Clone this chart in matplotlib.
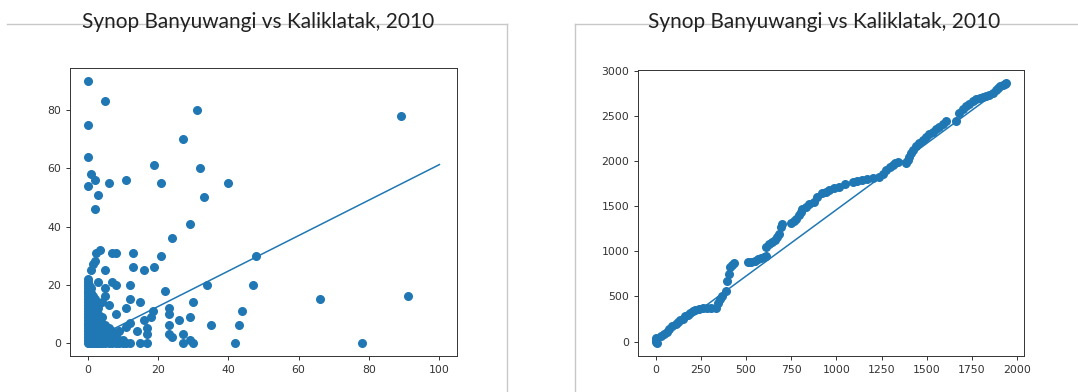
import numpy as np
import matplotlib
matplotlib.use("Agg")
import matplotlib.pyplot as plt
from matplotlib.lines import Line2D

title_text = "Synop Banyuwangi vs Kaliklatak, 2010"

# daily rainfall (mm): synop on x, kaliklatak on y -- dense cluster near zero
cluster_x = [0]*23 + [0.5]*13 + [1]*11 + [1.5]*9 + [2]*7 + [2.5]*6 + [3]*7 + [3.5]*4 \
    + [4]*6 + [5]*5 + [6]*4 + [7]*3 + [8]*3 + [9]*2 + [10]*2 + [11, 12]
cluster_y = list(range(23)) \
    + [0, 1, 2, 3, 5, 6, 8, 10, 12, 14, 16, 18, 20] \
    + [0, 1, 2, 4, 6, 9, 11, 13, 15, 17, 19] \
    + [0, 2, 3, 5, 7, 10, 12, 14, 16] \
    + [0, 1, 3, 5, 8, 11, 15] \
    + [0, 2, 4, 6, 9, 13] \
    + [0, 1, 3, 5, 7, 10, 12] \
    + [0, 2, 4, 8] \
    + [0, 1, 3, 5, 9, 14] \
    + [0, 1, 2, 4, 6] \
    + [0, 1, 3, 5] \
    + [0, 2, 4] \
    + [0, 1, 3] \
    + [0, 1] \
    + [0, 1] \
    + [0, 0]

# scattered daily values
daily_x = [0, 5, 0, 0, 1, 2, 0, 3, 2, 6, 11, 19, 21, 27, 31, 32, 33, 40, 89,
           29, 24, 2, 3.5, 2.5, 1.5, 1, 5, 7, 8, 13, 13, 16, 19, 21, 48,
           3, 5, 7, 8, 12, 22, 34, 47, 66, 91, 12, 15, 11, 5, 6, 8,
           18, 18.5, 23, 23, 26, 29, 30, 35, 44, 43, 42, 78,
           11, 12, 9, 14, 17, 17, 23, 23, 24, 27, 15, 17, 27, 29, 30, 16]
daily_y = [90, 83, 75, 64, 58, 56, 54, 51, 46, 55, 56, 61, 55, 70, 80, 60, 50, 55, 78,
           41, 36, 28, 32, 31, 27, 25, 25, 31, 31, 31, 26, 25, 26, 30, 30,
           21, 19, 21, 20, 20, 18, 20, 20, 15, 16, 15, 14, 12, 16, 13, 10,
           9, 11, 12, 10, 8, 9, 14, 6, 11, 6, 0, 0,
           5.5, 7, 4, 4, 5, 3, 6, 3, 2, 3, 0, 0, 0, 1, 0, 8]

daily_fit = (0.61, 0.3)
daily_fit_x = [0, 100]

# cumulative rainfall (mm)
cum_x = [0, 0, 3, 6, 30, 48, 63, 75, 90, 111, 125, 137, 150, 164, 178, 191, 205, 218,
         240, 262, 285, 307, 334, 346, 358, 370, 388, 396, 405, 414, 423, 433,
         512, 530, 548, 566, 584, 598, 611, 611, 628, 646, 660, 673, 682, 691, 700,
         750, 765, 777, 793, 804, 812, 830, 850, 875, 895, 920, 940, 959, 985, 1015,
         1050, 1089, 1115, 1144, 1170, 1200, 1237, 1255, 1274, 1295, 1311, 1325, 1338,
         1384, 1395, 1403, 1412, 1421, 1440, 1458, 1477, 1495, 1512, 1532, 1550, 1569,
         1590, 1606, 1662, 1680, 1698, 1717, 1735, 1754, 1772, 1791, 1810, 1828, 1846,
         1865, 1880, 1893, 1907, 1920, 1930, 1939]
cum_y = [0, 20, 35, -15, 60, 80, 111, 135, 174, 195, 215, 235, 255, 280, 296, 317, 335, 354,
         362, 368, 372, 370, 372, 429, 470, 504, 560, 672, 746, 821, 845, 867,
         877, 886, 896, 910, 925, 940, 951, 1045, 1075, 1101, 1130, 1157, 1193, 1269, 1304,
         1313, 1330, 1362, 1396, 1437, 1470, 1493, 1520, 1549, 1602, 1640, 1660, 1676, 1700, 1713,
         1740, 1769, 1778, 1787, 1795, 1806, 1824, 1860, 1898, 1930, 1954, 1975, 1991,
         1973, 2010, 2047, 2085, 2121, 2160, 2195, 2230, 2269, 2300, 2325, 2350, 2380,
         2410, 2436, 2436, 2529, 2570, 2603, 2630, 2659, 2680, 2696, 2705, 2714, 2730,
         2751, 2780, 2807, 2825, 2844, 2852, 2862]

cum_fit = (1.47, -10)
cum_fit_x = [0, 1940]

blue = '#1f77b4'
W, H = 1078, 392

plt.rcParams['font.family'] = ['DejaVu Sans']
plt.rcParams['font.size'] = 7.8
plt.rcParams['axes.linewidth'] = 0.7
plt.rcParams['axes.edgecolor'] = '#333333'
plt.rcParams['xtick.color'] = '#333333'
plt.rcParams['ytick.color'] = '#333333'
plt.rcParams['xtick.major.size'] = 2.8
plt.rcParams['ytick.major.size'] = 2.8
plt.rcParams['xtick.major.width'] = 0.7
plt.rcParams['ytick.major.width'] = 0.7

fig = plt.figure(figsize=(W / 100, H / 100), dpi=100)


def px_axes(x0, y0, x1, y1):
    # pixel box (top-left origin) -> figure axes
    return fig.add_axes([x0 / W, 1 - y1 / H, (x1 - x0) / W, (y1 - y0) / H])


ax1 = px_axes(70, 68, 457, 356)
ax1.scatter(cluster_x, cluster_y, s=30, color=blue, zorder=2)
ax1.scatter(daily_x, daily_y, s=30, color=blue, zorder=2)
fx = np.array(daily_fit_x)
ax1.plot(fx, daily_fit[0] * fx + daily_fit[1], color=blue, lw=1.1, zorder=3)
ax1.set_xticks([0, 20, 40, 60, 80, 100])
ax1.set_yticks([0, 20, 40, 60, 80])

ax2 = px_axes(638, 70, 1024, 356)
ax2.scatter(cum_x, cum_y, s=30, color=blue, zorder=2)
fx = np.array(cum_fit_x)
ax2.plot(fx, cum_fit[0] * fx + cum_fit[1], color=blue, lw=1.1, zorder=3)
ax2.set_xticks(range(0, 2001, 250))
ax2.set_yticks(range(0, 3001, 500))

# light gray panel frames of the screenshot
frame = '#c8c8c8'
for xs, ys in [([7, 507], [24, 24]), ([507, 507], [24, 392]),
               ([575, 1078], [24, 24]), ([575, 575], [24, 392])]:
    fig.add_artist(Line2D([x / W for x in xs], [1 - y / H for y in ys],
                          transform=fig.transFigure, color=frame, lw=1.0))

for cx in [258, 824]:
    fig.text(cx / W, 1 - 22 / H, title_text, ha='center', va='center',
             fontsize=15, family='Lato', color='#222222')

fig.savefig('out.png', dpi=100)
